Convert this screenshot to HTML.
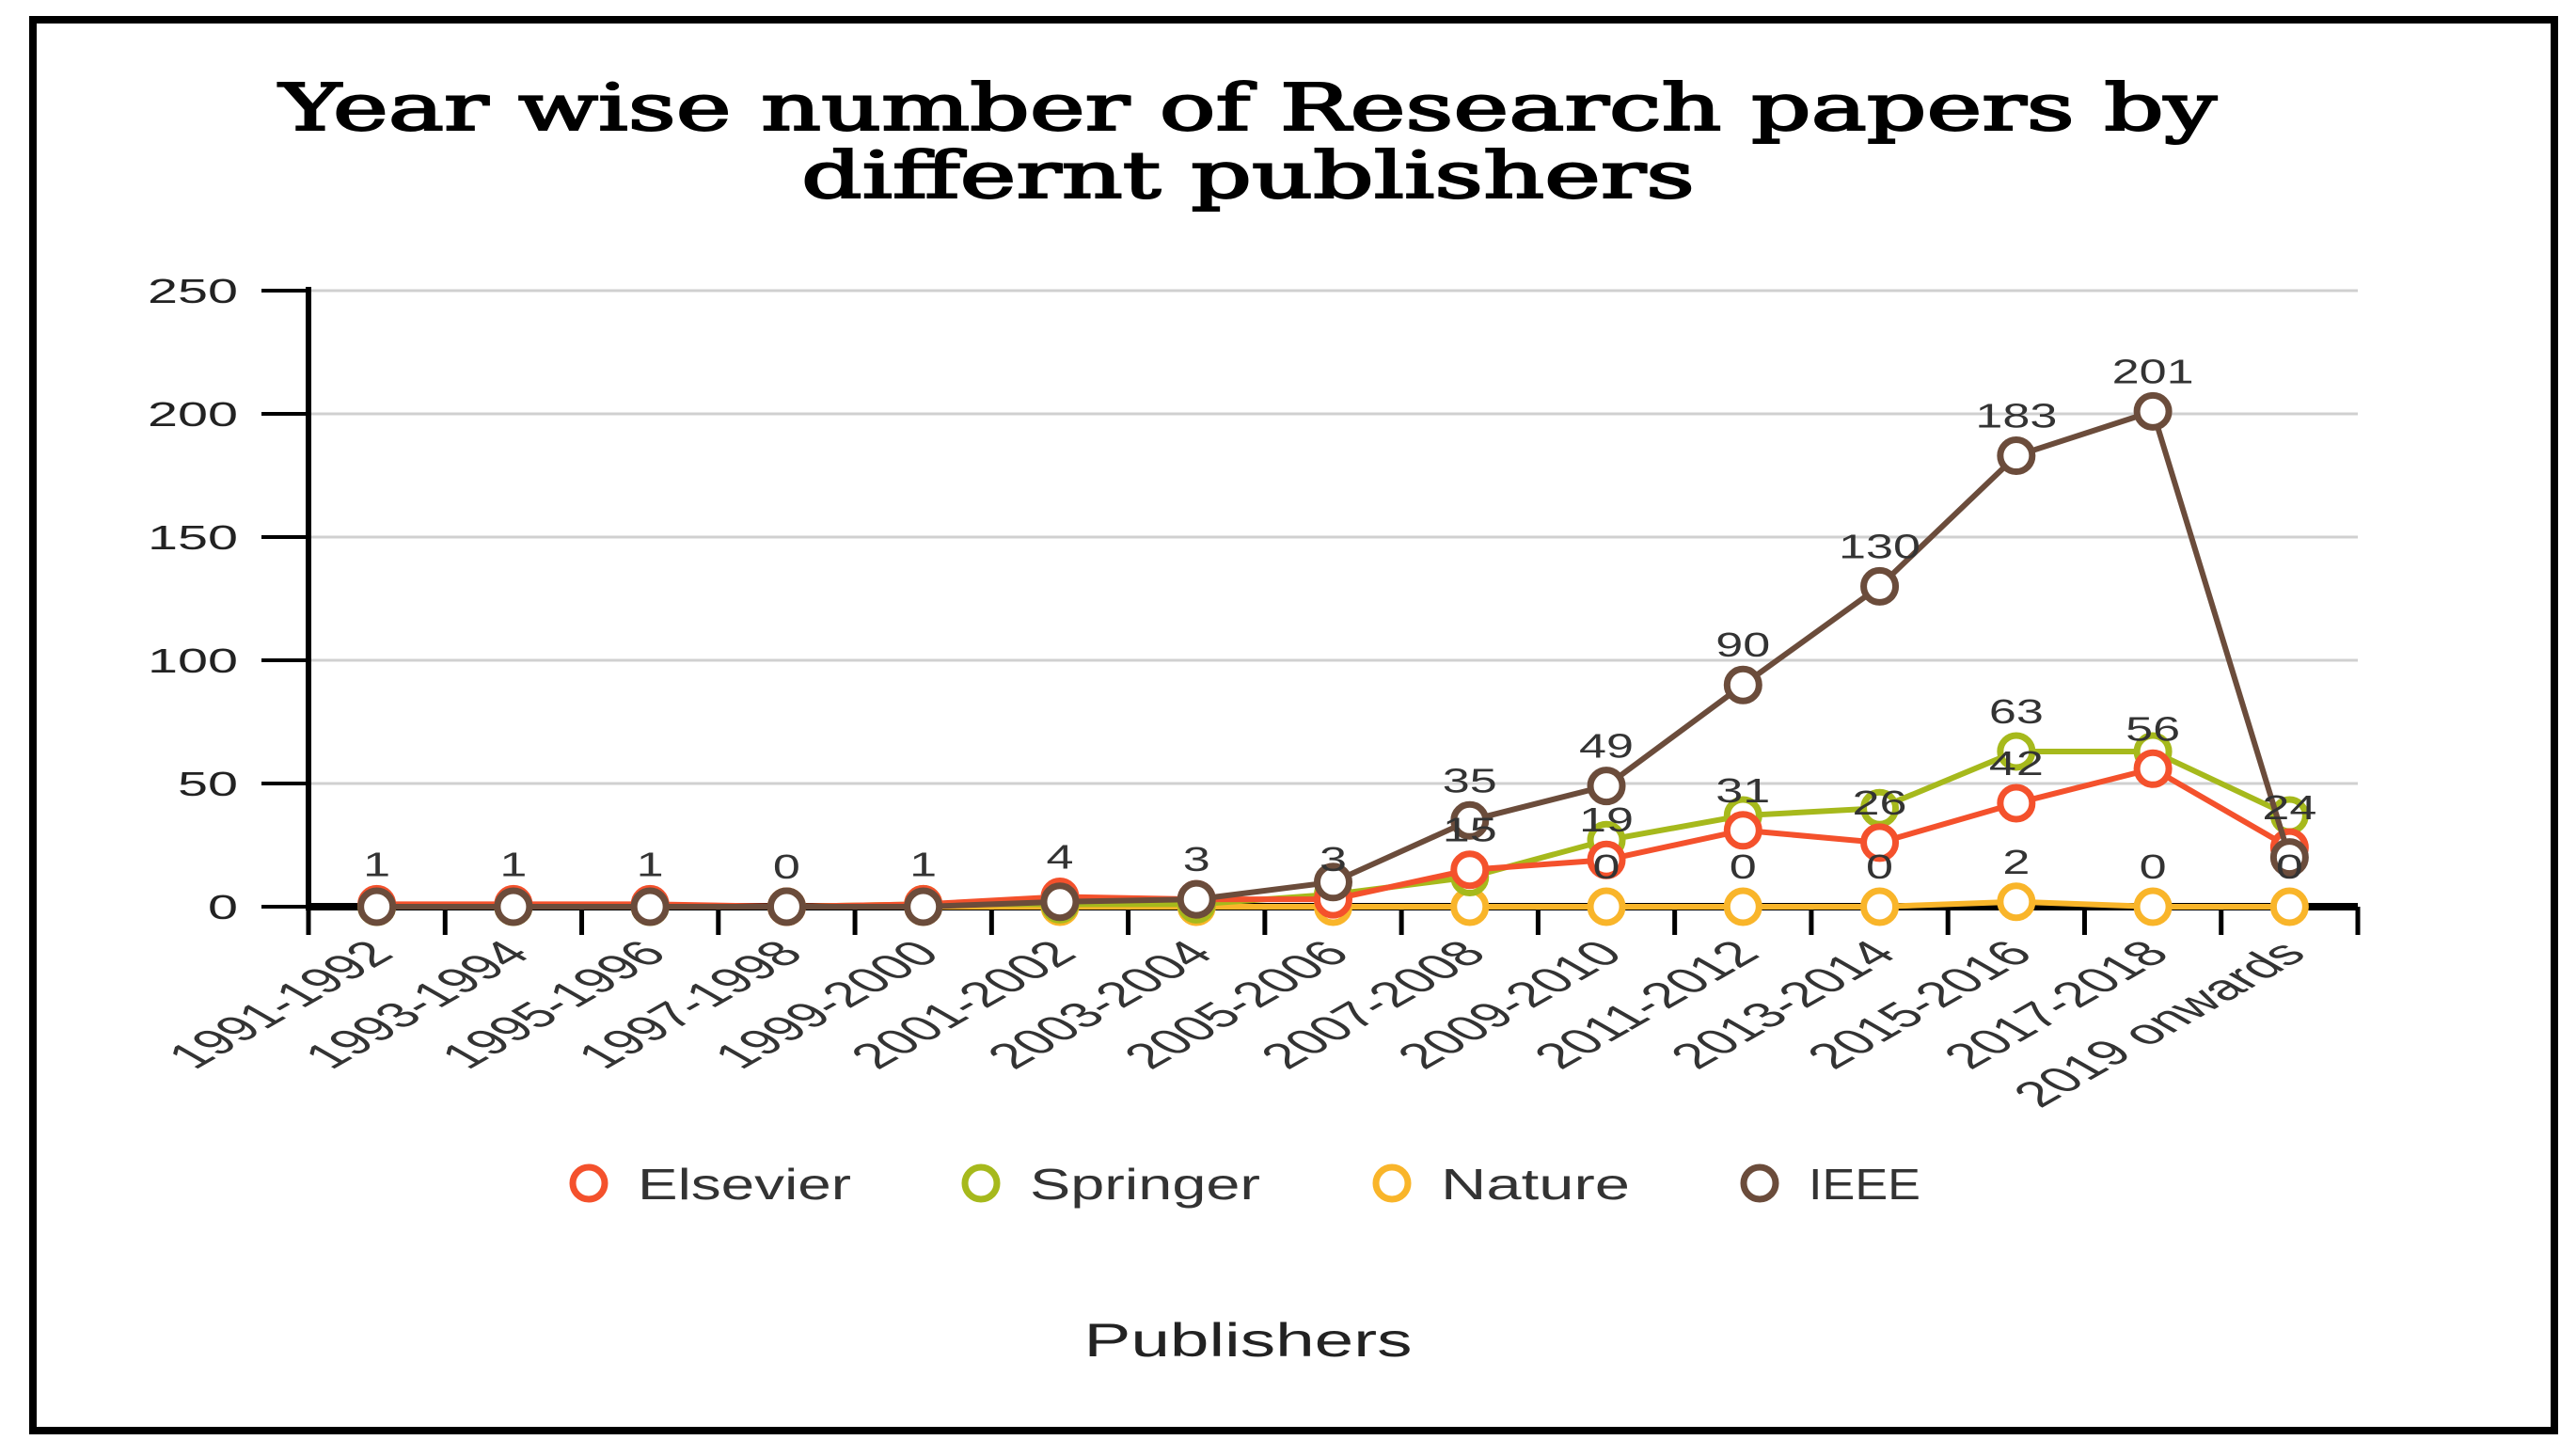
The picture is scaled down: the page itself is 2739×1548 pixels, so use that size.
<!DOCTYPE html>
<html><head><meta charset="utf-8"><style>
html,body{margin:0;padding:0;background:#fff;}
svg{display:block;}
</style></head><body>
<svg id="chart" width="2739" height="1548" viewBox="0 0 2739 1548" xmlns="http://www.w3.org/2000/svg">
<rect x="35" y="21" width="2681" height="1500" fill="#fff" stroke="#000" stroke-width="8"/>
<text x="1327" y="138" text-anchor="middle" font-family="'DejaVu Serif','Liberation Serif',serif" font-size="68" stroke="#000" stroke-width="2" textLength="2060" lengthAdjust="spacingAndGlyphs" fill="#000">Year wise number of Research papers by</text>
<text x="1327" y="210" text-anchor="middle" font-family="'DejaVu Serif','Liberation Serif',serif" font-size="68" stroke="#000" stroke-width="2" textLength="950" lengthAdjust="spacingAndGlyphs" fill="#000">differnt publishers</text>
<g id="grid"></g>
<g id="axes"></g>
<g id="series"></g>
<g id="labels"></g>
<g id="legend"></g>
<text x="1327" y="1442" text-anchor="middle" font-family="'Liberation Sans',sans-serif" font-size="50" fill="#222" textLength="349" lengthAdjust="spacingAndGlyphs">Publishers</text>
</svg>
<script>
const categories = ["1991-1992","1993-1994","1995-1996","1997-1998","1999-2000","2001-2002","2003-2004","2005-2006","2007-2008","2009-2010","2011-2012","2013-2014","2015-2016","2017-2018","2019 onwards"];
const elsevier = [1,1,1,0,1,4,3,3,15,19,31,26,42,56,24];
const springer = [0,0,0,0,1,1,1,5,12,27,37,40,63,63,37];
const nature = [0,0,0,0,0,0,0,0,0,0,0,0,2,0,0];
const ieee = [0,0,0,0,0,2,3,10,35,49,90,130,183,201,20];
const elsevierLabels = ["1","1","1","0","1","4","3","3","15","19","31","26","42","56","24"];
const springerLabels = [null,null,null,null,null,null,null,null,null,null,null,null,"63",null,null];
const natureLabels = [null,null,null,null,null,null,null,null,null,"0","0","0","2","0","0"];
const ieeeLabels = [null,null,null,null,null,null,null,null,"35","49","90","130","183","201",null];
const yTicks = [0,50,100,150,200,250];
const seriesNames = ["Elsevier","Springer","Nature","IEEE"];
const NS="http://www.w3.org/2000/svg";
const X0=328,X1=2507,Y0=964,Y1=309,YMAX=250;
const band=(X1-X0)/categories.length;
const xs=i=>X0+band*(i+0.5);
const ys=v=>Y0-(v/YMAX)*(Y0-Y1);
function mk(tag,attrs,parent){const e=document.createElementNS(NS,tag);for(const k in attrs)e.setAttribute(k,attrs[k]);parent.appendChild(e);return e;}
const grid=document.getElementById('grid'),axes=document.getElementById('axes'),ser=document.getElementById('series'),lab=document.getElementById('labels'),leg=document.getElementById('legend');
yTicks.forEach(t=>{
  if(t>0){const g=mk('line',{x1:X0,x2:X1,y1:ys(t),y2:ys(t),stroke:'#d0d0d0','stroke-width':3},grid);
  
  }
  const tk=mk('line',{x1:X0-50,x2:X0,y1:ys(t),y2:ys(t),stroke:'#000','stroke-width':4},axes);
  
  
  const s=String(t);
  const tl=mk('text',{x:X0-75,y:ys(t)+13,'text-anchor':'end','font-family':"'Liberation Sans',sans-serif",'font-size':36,fill:'#222',textLength:s.length*32,lengthAdjust:'spacingAndGlyphs'},axes);
  tl.textContent=s;
  
  
});
const ya=mk('line',{x1:X0,x2:X0,y1:Y1-4,y2:Y0+4,stroke:'#000','stroke-width':6},axes);


const xa=mk('line',{x1:X0,x2:X1,y1:Y0,y2:Y0,stroke:'#000','stroke-width':8},axes);


for(let i=0;i<=categories.length;i++){
  const tk=mk('line',{x1:X0+band*i,x2:X0+band*i,y1:Y0,y2:Y0+30,stroke:'#000','stroke-width':5},axes);
  
  
}
categories.forEach((c,i)=>{
  const x=xs(i)+20,y=Y0+52;
  const t=mk('text',{x:0,y:0,'text-anchor':'end','font-family':"'Liberation Sans',sans-serif",'font-size':38,fill:'#333',textLength:c.length*19.2,lengthAdjust:'spacingAndGlyphs',transform:`translate(${x} ${y}) scale(1.75 1) rotate(-45)`},axes);
  t.textContent=c;
  
  
});
const allSeries=[[elsevier,'#f4512c',elsevierLabels],[springer,'#a6b91c',springerLabels],[nature,'#f9b52a',natureLabels],[ieee,'#6b4c3b',ieeeLabels]];
const order=[2,1,0,3];
order.forEach(si=>{
  const [vals,col]=allSeries[si];
  const g=mk('g',{},ser);
  
  
  const pl=mk('polyline',{points:vals.map((v,i)=>xs(i)+','+ys(v)).join(' '),fill:'none',stroke:col,'stroke-width':6,'stroke-linejoin':'round'},g);
  
  
  vals.forEach((v,i)=>{
    const c=mk('circle',{cx:xs(i),cy:ys(v),r:17,fill:'#fff',stroke:col,'stroke-width':7},g);
    
    
  });
});
allSeries.forEach(([vals,col,labels],si)=>{
  labels.forEach((l,i)=>{
    if(l===null)return;
    const t=mk('text',{x:xs(i),y:ys(vals[i])-30,'text-anchor':'middle','font-family':"'Liberation Sans',sans-serif",'font-size':36,fill:'#333',textLength:l.length*29,lengthAdjust:'spacingAndGlyphs'},lab);
    t.textContent=l;
    
    
  });
});
const legX=[626,1043,1480,1871];
const legW=[227,245,201,119];
seriesNames.forEach((n,i)=>{
  const g=mk('g',{},leg);
  
  
  mk('circle',{cx:legX[i],cy:1258,r:17,fill:'#fff',stroke:allSeries[i][1],'stroke-width':7},g);
  const t=mk('text',{x:legX[i]+52,y:1275,'font-family':"'Liberation Sans',sans-serif",'font-size':46,fill:'#333',textLength:legW[i],lengthAdjust:'spacingAndGlyphs'},g);
  t.textContent=n;
});
</script>
</body></html>
